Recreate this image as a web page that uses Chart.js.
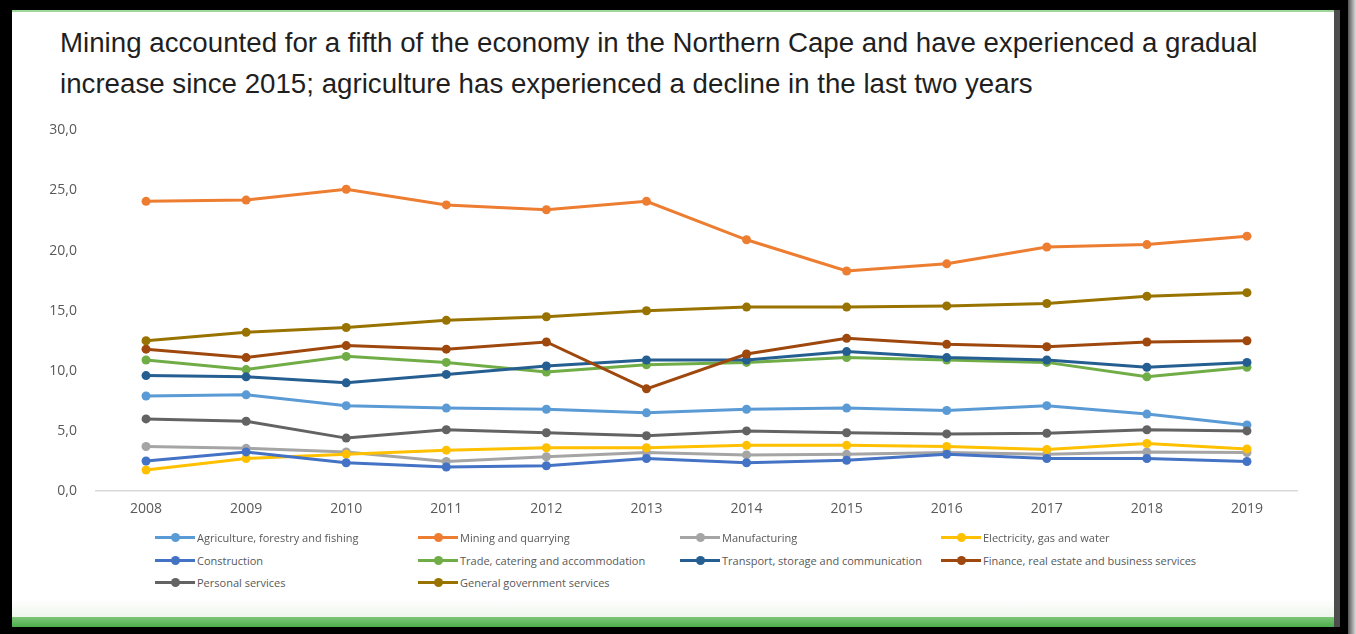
<!DOCTYPE html>
<html>
<head>
<meta charset="utf-8">
<script src="https://cdn.jsdelivr.net/npm/chart.js@4"></script>
<style>
  html, body { margin: 0; padding: 0; }
  body { width: 1356px; height: 634px; background: #000; position: relative; overflow: hidden; }
  #panel {
    position: absolute; left: 12px; top: 10px; width: 1322px; height: 617px;
    background: #fff; border-top: 2px solid #9fd69a; box-sizing: border-box;
  }
  #edge { position: absolute; left: 1334px; top: 10px; width: 6px; height: 617px; background: #4d4d4d; }
  #shade { position: absolute; left: 1348px; top: 0; width: 8px; height: 634px;
    background: linear-gradient(to right, #555, #ddd); }
  #fade { position: absolute; left: 0; bottom: 10px; width: 100%; height: 18px;
    background: linear-gradient(to bottom, #fff, #eef6ec); }
  #green { position: absolute; left: 0; bottom: 0; width: 100%; height: 10px;
    background: linear-gradient(to bottom, #7cc576, #4cae4c); }
  #title {
    position: absolute; left: 48px; top: 10px; width: 1280px;
    font-family: "Liberation Sans", Arial, sans-serif; font-size: 27.7px; line-height: 41px;
    color: #1f1f1f; white-space: nowrap;
  }
  #chartBox { position: absolute; left: 0; top: 99px; width: 1322px; height: 420px; }
  #legend { position: absolute; left: 0; top: 0; width: 1322px; height: 0; }
  .item { position: absolute; display: flex; align-items: center; height: 16px;
    font-family: "Open Sans", sans-serif; font-size: 11px; color: #595959; white-space: nowrap; }
  .mark { position: relative; width: 40px; height: 16px; margin-right: 2px; }
  .mark .ln { position: absolute; left: 0; top: 6.5px; width: 40px; height: 3px; }
  .mark .dot { position: absolute; left: 15.5px; top: 3.5px; width: 9px; height: 9px; border-radius: 50%; }
</style>
</head>
<body>
<div id="panel">
  <div id="title">Mining accounted for a fifth of the economy in the Northern Cape and have experienced a gradual<br>increase since 2015; agriculture has experienced a decline in the last two years</div>
  <div id="chartBox"><canvas id="chart"></canvas></div>
  <div id="legend"></div>
  <div id="fade"></div>
  <div id="green"></div>
</div>
<div id="edge"></div>
<div id="shade"></div>
<script>
// years on the x axis
var years = ["2008", "2009", "2010", "2011", "2012", "2013", "2014", "2015", "2016", "2017", "2018", "2019"];

// share of the economy per sector (%)
var agriculture = [7.9, 8.0, 7.1, 6.9, 6.8, 6.5, 6.8, 6.9, 6.7, 7.1, 6.4, 5.5];
var mining = [24.1, 24.2, 25.1, 23.8, 23.4, 24.1, 20.9, 18.3, 18.9, 20.3, 20.5, 21.2];
var manufacturing = [3.7, 3.55, 3.25, 2.45, 2.85, 3.2, 3.0, 3.05, 3.2, 3.05, 3.25, 3.2];
var electricity = [1.75, 2.7, 3.05, 3.4, 3.6, 3.6, 3.8, 3.8, 3.7, 3.45, 3.95, 3.5];
var construction = [2.5, 3.25, 2.35, 2.0, 2.1, 2.7, 2.35, 2.55, 3.05, 2.7, 2.7, 2.45];
var trade = [10.9, 10.1, 11.2, 10.7, 9.9, 10.5, 10.7, 11.1, 10.9, 10.7, 9.5, 10.3];
var transport = [9.6, 9.5, 9.0, 9.7, 10.4, 10.9, 10.9, 11.6, 11.1, 10.9, 10.3, 10.7];
var finance = [11.8, 11.1, 12.1, 11.8, 12.4, 8.5, 11.4, 12.7, 12.2, 12.0, 12.4, 12.5];
var personal = [6.0, 5.8, 4.4, 5.1, 4.85, 4.6, 5.0, 4.85, 4.75, 4.8, 5.1, 5.0];
var government = [12.5, 13.2, 13.6, 14.2, 14.5, 15.0, 15.3, 15.3, 15.4, 15.6, 16.2, 16.5];

var yTicks = [0, 5, 10, 15, 20, 25, 30];

var series = [
  { label: "Agriculture, forestry and fishing", data: agriculture, color: "#5B9BD5" },
  { label: "Mining and quarrying", data: mining, color: "#ED7D31" },
  { label: "Manufacturing", data: manufacturing, color: "#A5A5A5" },
  { label: "Electricity, gas and water", data: electricity, color: "#FFC000" },
  { label: "Construction", data: construction, color: "#4472C4" },
  { label: "Trade, catering and accommodation", data: trade, color: "#70AD47" },
  { label: "Transport, storage  and communication", data: transport, color: "#255E91" },
  { label: "Finance, real estate and business services", data: finance, color: "#9E480E" },
  { label: "Personal services", data: personal, color: "#636363" },
  { label: "General government services", data: government, color: "#997300" },
];

var datasets = series.map(function (s, i) {
  return {
    label: s.label,
    data: s.data,
    borderColor: s.color,
    backgroundColor: s.color,
    borderWidth: 3,
    pointRadius: 4.5,
    pointHoverRadius: 4.5,
    pointBorderWidth: 0,
    fill: false,
    tension: 0,
    order: 20 - i, // later series drawn on top
  };
});

const ctx = document.getElementById("chart").getContext("2d");
const chart = new Chart(ctx, {
  type: "line",
  data: { labels: years, datasets: datasets },
  options: {
    responsive: false,
    animation: false,
    maintainAspectRatio: false,
    layout: { padding: { left: 0, right: 37, top: 0, bottom: 0 } },
    plugins: { legend: { display: false }, tooltip: { enabled: false } },
    scales: {
      x: {
        offset: true,
        grid: { display: false },
        border: { display: true, color: "#d9d9d9", width: 1.5 },
        ticks: { color: "#595959", font: { family: "Open Sans", size: 14 }, padding: 2, maxRotation: 0 },
        afterFit: function (scale) { scale.height = 40; },
      },
      y: {
        min: 0,
        max: 30,
        afterBuildTicks: function (scale) {
          scale.ticks = yTicks.map(function (v) { return { value: v }; });
        },
        grid: { display: false },
        border: { display: false },
        ticks: {
          color: "#595959",
          font: { family: "Open Sans", size: 14 },
          padding: 11,
          callback: function (v) { return v.toFixed(1).replace(".", ","); },
        },
        afterFit: function (scale) { scale.width = 84; },
      },
    },
  },
});
chart.canvas.style.width = "1322px";
chart.canvas.style.height = "420px";
chart.resize(1322, 420);

// legend built from the chart's datasets, 4 columns
var legend = document.getElementById("legend");
var colX = [143, 406, 668, 929];
var rowY = [517, 540, 562];
chart.data.datasets.forEach(function (ds, i) {
  var item = document.createElement("div");
  item.className = "item";
  item.style.left = colX[i % 4] + "px";
  item.style.top = rowY[Math.floor(i / 4)] + "px";
  item.innerHTML = '<div class="mark"><div class="ln" style="background:' + ds.borderColor +
    '"></div><div class="dot" style="background:' + ds.borderColor + '"></div></div><span>' + ds.label + '</span>';
  legend.appendChild(item);
});
</script>
</body>
</html>
